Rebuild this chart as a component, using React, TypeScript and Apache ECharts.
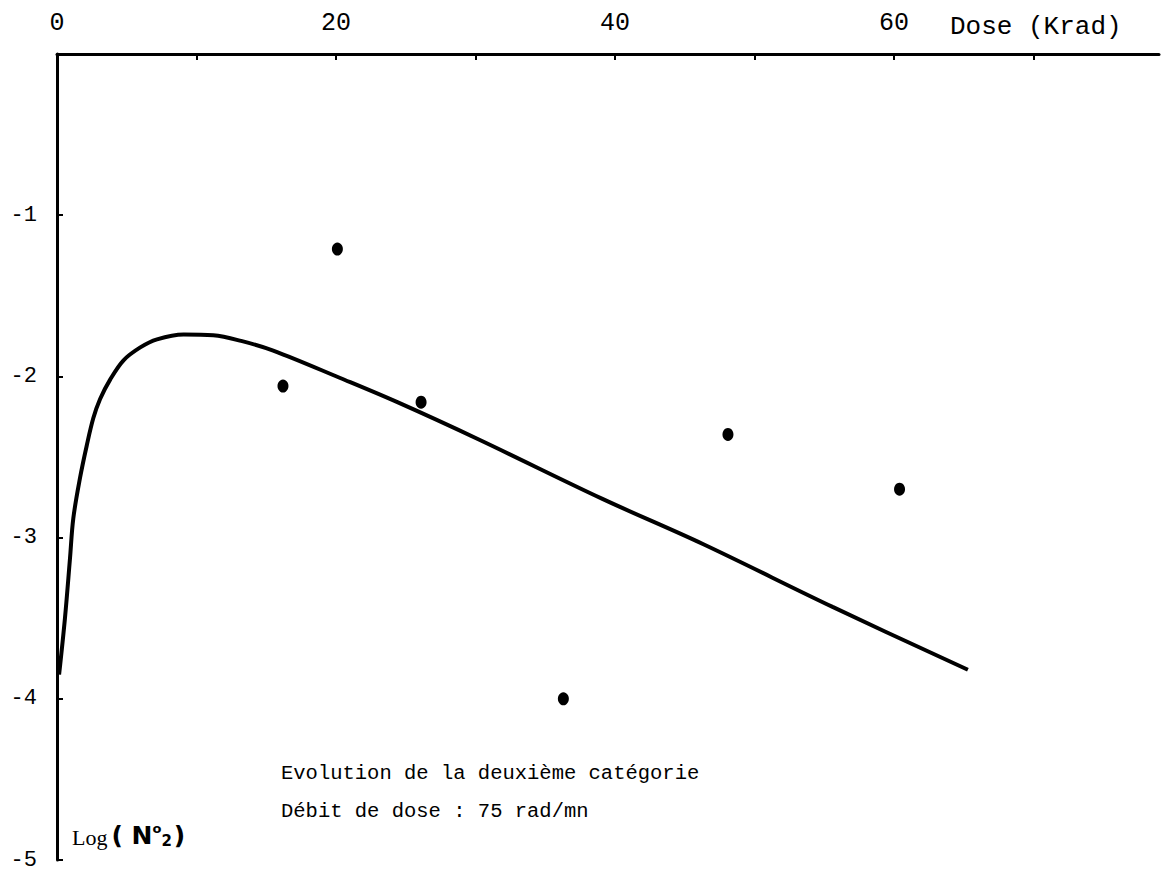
import React, { useEffect, useRef } from "react";
import * as echarts from "echarts";

// Fitted curve: dose (Krad) vs Log(N°2)
const curveDose = [0.15, 0.57, 0.93, 1.17, 1.65, 2.13, 2.6, 3.09, 3.81, 4.77, 5.97, 7.17, 9.08, 11.2, 13.2, 15.5, 20.3, 24.4, 30.2, 39.1, 46.3, 55.6, 65.3];
const curveLog = [-3.85, -3.5, -3.13, -2.88, -2.63, -2.43, -2.26, -2.14, -2.02, -1.9, -1.82, -1.77, -1.74, -1.745, -1.78, -1.84, -2.01, -2.16, -2.39, -2.76, -3.04, -3.43, -3.82];

// Measured points
const pointDose = [16.2, 20.1, 26.1, 36.3, 48.1, 60.4];
const pointLog = [-2.06, -1.21, -2.16, -4.0, -2.36, -2.7];

const xTickLabels = ["0", "20", "40", "60"];
const yTickLabels = ["-1", "-2", "-3", "-4", "-5"];
const xAxisTitle = "Dose (Krad)";
const noteLines = ["Evolution de la deuxième catégorie", "Débit de dose : 75 rad/mn"];

const MONO = "Courier New";
const MONO2 = "Liberation Mono";

export default function App() {
  const ref = useRef<HTMLDivElement>(null);
  useEffect(() => {
    if (!ref.current) return;
    const chart = echarts.init(ref.current, null, { renderer: "svg" });
    const curve = curveDose.map((d, i) => [d, curveLog[i]]);
    const pts = pointDose.map((d, i) => [d, pointLog[i]]);
    chart.setOption({
      animation: false,
      backgroundColor: "#ffffff",
      grid: { left: 57, top: 54, width: 1102, height: 808, containLabel: false },
      xAxis: {
        type: "value",
        position: "top",
        min: 0,
        max: 79,
        interval: 10,
        splitLine: { show: false },
        axisLine: { onZero: false, lineStyle: { color: "#000", width: 3 } },
        axisTick: { inside: true, length: 6, lineStyle: { color: "#000", width: 2 } },
        axisLabel: {
          margin: 18,
          color: "#000",
          fontFamily: MONO,
          fontSize: 25,
          showMaxLabel: false,
          formatter: (v: number) => (xTickLabels.includes(String(v)) ? String(v) : ""),
        },
      },
      yAxis: {
        type: "value",
        min: -5,
        max: 0,
        interval: 1,
        splitLine: { show: false },
        axisLine: { onZero: false, lineStyle: { color: "#000", width: 3 } },
        axisTick: { inside: true, length: 6, lineStyle: { color: "#000", width: 2 } },
        axisLabel: {
          margin: 20,
          color: "#000",
          fontFamily: MONO,
          fontSize: 22,
          formatter: (v: number) => (yTickLabels.includes(String(v)) ? String(v) : ""),
        },
      },
      series: [
        {
          type: "line",
          data: curve,
          smooth: 0.35,
          symbol: "none",
          lineStyle: { color: "#000", width: 4 },
          z: 3,
        },
        {
          type: "scatter",
          data: pts,
          symbol: "circle",
          symbolSize: [11, 13],
          itemStyle: { color: "#000", opacity: 1 },
          z: 4,
        },
      ],
      graphic: [
        {
          type: "text",
          left: 950,
          top: 14,
          style: { text: xAxisTitle, fill: "#000", fontFamily: MONO, fontSize: 26 },
        },
        {
          type: "text",
          left: 281,
          top: 763,
          style: { text: noteLines[0], fill: "#000", fontFamily: MONO2, fontSize: 20.5 },
        },
        {
          type: "text",
          left: 281,
          top: 801,
          style: { text: noteLines[1], fill: "#000", fontFamily: MONO2, fontSize: 20.5 },
        },
        {
          type: "text",
          left: 72,
          top: 822,
          style: {
            text: "{a|Log}{b|( }{n|N}{s|o}{d|2}{b|)}",
            fill: "#000",
            rich: {
              a: { fontFamily: "Liberation Serif", fontSize: 22, fill: "#000", verticalAlign: "middle", padding: [4, 4, 0, 0] },
              b: { fontFamily: "DejaVu Sans", fontWeight: "bold", fontSize: 25, fill: "#000", verticalAlign: "middle" },
              n: { fontFamily: "DejaVu Sans", fontWeight: "bold", fontSize: 25, fill: "#000", verticalAlign: "middle" },
              s: { fontFamily: "DejaVu Sans", fontWeight: "bold", fontSize: 13, fill: "#000", verticalAlign: "top" },
              d: { fontFamily: "DejaVu Sans", fontWeight: "bold", fontSize: 15, fill: "#000", verticalAlign: "bottom", padding: [0, 2, 0, 0] },
            },
          },
        },
      ],
    });
    return () => chart.dispose();
  }, []);
  return (
    <div
      ref={ref}
      style={{ position: "absolute", left: 0, top: 0, width: 1163, height: 871, background: "#fff" }}
    />
  );
}
